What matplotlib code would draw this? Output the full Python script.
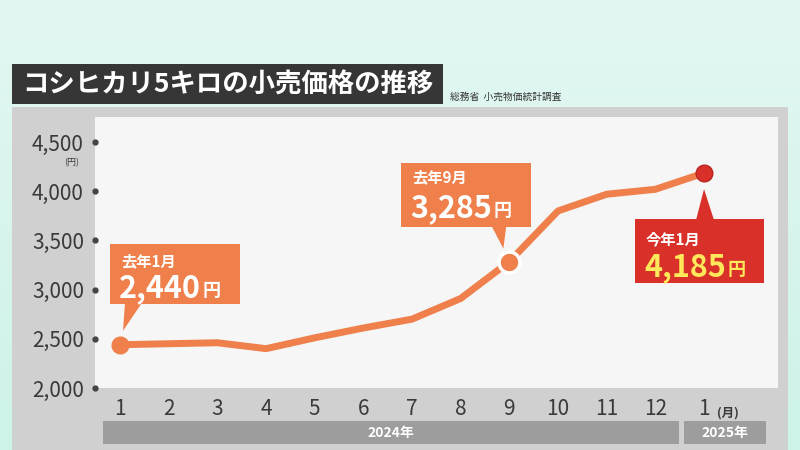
import numpy as np
import matplotlib.pyplot as plt
from matplotlib.patches import Rectangle, Polygon
from matplotlib.transforms import Affine2D, blended_transform_factory
from matplotlib.colors import LinearSegmentedColormap

plt.rcParams['font.family'] = ['Noto Sans CJK JP', 'DejaVu Sans']

# data (2024/1 .. 2025/1)
months = list(range(1, 14))
month_labels = ['1', '2', '3', '4', '5', '6', '7', '8', '9', '10', '11', '12', '1']
prices = [2440, 2450, 2460, 2400, 2510, 2610, 2700, 2910, 3285, 3800, 3970, 4020, 4185]
yticks = [2000, 2500, 3000, 3500, 4000, 4500]
ytick_labels = ['2,000', '2,500', '3,000', '3,500', '4,000', '4,500']
years = ['2024年', '2025年']
title = 'コシヒカリ5キロの小売価格の推移'
source = '総務省  小売物価統計調査'

ORANGE = '#ef7f4b'
RED = '#d9302a'
YELLOW = '#ffe95a'
TXT = '#3a3a3a'

fig = plt.figure(figsize=(8, 4.5), dpi=100)

# background in pixel coords (y downward)
bg = fig.add_axes([0, 0, 1, 1], zorder=0)
bg.set_xlim(0, 800)
bg.set_ylim(450, 0)
bg.axis('off')
grad = np.linspace(0, 1, 100)[:, None]
cm = LinearSegmentedColormap.from_list('mint', ['#e3f7f2', '#cdf3e8'])
bg.imshow(grad, extent=[0, 800, 450, 0], cmap=cm, aspect='auto')
bg.add_patch(Rectangle((12, 107), 776, 343, fc='#d0d0d0', ec='none'))
bg.add_patch(Rectangle((12, 64), 431, 40, fc='#363636', ec='none'))
bg.text(22, 85, title, color='white', fontsize=19, fontweight='bold', va='center', ha='left')
bg.text(450, 97, source, color='#333333', fontsize=7, va='center', ha='left')
# year bands
bg.add_patch(Rectangle((103, 421), 576, 23, fc='#9d9d9d', ec='none'))
bg.add_patch(Rectangle((684, 421), 82, 23, fc='#9d9d9d', ec='none'))
bg.text(391, 432.5, years[0], color='white', fontsize=10, fontweight='bold', ha='center', va='center')
bg.text(725, 432.5, years[1], color='white', fontsize=10, fontweight='bold', ha='center', va='center')

# main plot area
ax = fig.add_axes([95 / 800, (450 - 388) / 450, 683 / 800, 271 / 450], zorder=2)
ax.set_facecolor('#f6f6f6')
for s in ax.spines.values():
    s.set_visible(False)
ax.set_xlim(0.486, 14.52)
ax.set_ylim(2000, 4755)

ax.set_xticks(months)
ax.set_xticklabels(month_labels, fontsize=15, color=TXT)
ax.set_yticks(yticks)
ax.set_yticklabels(ytick_labels, fontsize=15, color=TXT)
ax.tick_params(length=0)
ax.tick_params(axis='x', pad=7)
ax.tick_params(axis='y', pad=8)
# dot tick marks
ytr = blended_transform_factory(ax.transAxes, ax.transData)
ax.plot([0.0] * len(yticks), yticks, 'o', color='#444444', ms=3.5, transform=ytr, clip_on=False, zorder=5)
ax.annotate('(円)', xy=(0, 4500), xycoords=ytr, xytext=(-17, -14.5), textcoords='offset points',
            fontsize=6.5, color=TXT, ha='center', va='center', annotation_clip=False)
ax.annotate('(月)', xy=(months[-1], 0), xycoords=blended_transform_factory(ax.transData, ax.transAxes),
            xytext=(9, -18), textcoords='offset points', fontsize=9, color=TXT, fontweight='bold',
            ha='left', va='center', annotation_clip=False)

ax.plot(months, prices, color=ORANGE, lw=5, solid_capstyle='round', solid_joinstyle='round', zorder=3)
ax.plot(months[0], prices[0], 'o', color=ORANGE, ms=12, zorder=4, clip_on=False)
ax.plot(months[8], prices[8], 'o', mfc=ORANGE, mec='white', mew=2.5, ms=15, zorder=4)
ax.plot(months[12], prices[12], 'o', mfc=RED, mec='#b82520', mew=1, ms=12, zorder=4)


def callout(i, head, value, fc, vc, left, right, bottom, top, base, tip, hy, vy):
    px, py = ax.transData.transform((months[i], prices[i]))
    tr = Affine2D().translate(px, py)
    ax.add_patch(Rectangle((left, bottom), right - left, top - bottom, transform=tr,
                           fc=fc, ec='none', clip_on=False, zorder=6))
    ax.add_patch(Polygon([(base[0], base[2]), (base[1], base[2]), tip], closed=True, transform=tr,
                         fc=fc, ec='none', clip_on=False, zorder=6))
    ax.text(left + 11, hy, head, transform=tr, color='white', fontsize=11, fontweight='bold',
            ha='left', va='center', zorder=7)
    t = ax.text(left + 9, vy, value, transform=tr, color=vc, fontsize=22, fontweight='bold',
                ha='left', va='center', zorder=7)
    ax.annotate('円', xy=(1, 0.13), xycoords=t, xytext=(1, 0), textcoords='offset points',
                color=vc, fontsize=13, fontweight='bold', ha='left', va='bottom', zorder=7)


callout(0, '去年1月', '2,440', ORANGE, 'white', -10, 120, 41, 101, (5, 22, 42), (3, 14), 84, 57)
callout(8, '去年9月', '3,285', ORANGE, 'white', -108, 22, 35, 99, (-18, -3, 36), (-6, 13), 84, 53)
callout(12, '今年1月', '4,185', RED, YELLOW, -69, 60, -110, -46, (-8, 10, -47), (0, -16), -66, -94)

fig.savefig('out.png', dpi=100)
